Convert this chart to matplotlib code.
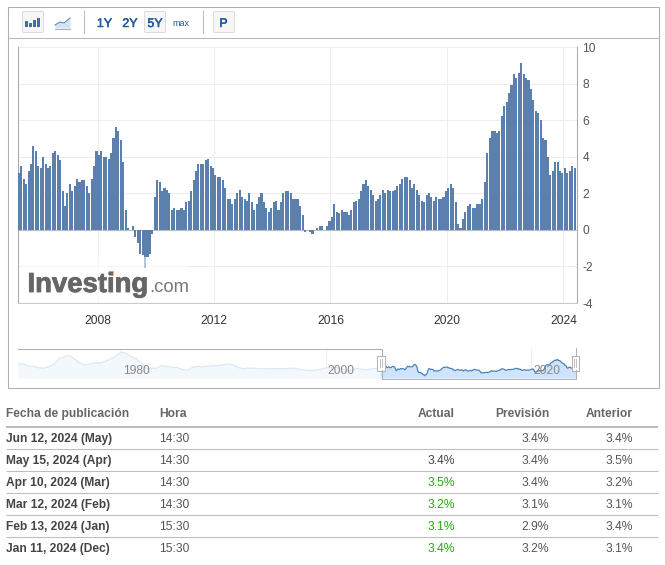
import numpy as np
import matplotlib
matplotlib.use("Agg")
import matplotlib.pyplot as plt
import matplotlib.patheffects as pe
from matplotlib.patches import Rectangle, FancyBboxPatch

plt.rcParams['font.family'] = ['Liberation Sans', 'DejaVu Sans']
plt.rcParams['axes.unicode_minus'] = False
plt.rcParams['axes.linewidth'] = 0.75

# Monthly values, first bar = Mar 2005 figure, published one month later
cpi_2005 = [3.1, 3.5, 2.8, 2.5, 3.2, 3.6, 4.6, 4.3, 3.5, 3.4]
cpi_2006 = [4.0, 3.6, 3.4, 3.5, 4.2, 4.3, 4.1, 3.8, 2.1, 1.3, 2.0, 2.5]
cpi_2007 = [2.1, 2.4, 2.8, 2.6, 2.7, 2.7, 2.4, 2.0, 2.8, 3.5, 4.3, 4.1]
cpi_2008 = [4.3, 4.0, 4.0, 3.9, 4.2, 5.0, 5.6, 5.4, 4.9, 3.7, 1.1, 0.1]
cpi_2009 = [0.0, 0.2, -0.4, -0.7, -1.3, -1.4, -2.1, -1.5, -1.3, -0.2, 1.8, 2.7]
cpi_2010 = [2.6, 2.1, 2.3, 2.2, 2.0, 1.1, 1.2, 1.1, 1.1, 1.2, 1.1, 1.5]
cpi_2011 = [1.6, 2.1, 2.7, 3.2, 3.6, 3.6, 3.6, 3.8, 3.9, 3.5, 3.4, 3.0]
cpi_2012 = [2.9, 2.9, 2.7, 2.3, 1.7, 1.7, 1.4, 1.7, 2.0, 2.2, 1.8, 1.7]
cpi_2013 = [1.6, 2.0, 1.5, 1.1, 1.4, 1.8, 2.0, 1.5, 1.2, 1.0, 1.2, 1.5]
cpi_2014 = [1.6, 1.1, 1.5, 2.0, 2.1, 2.1, 2.0, 1.7, 1.7, 1.7, 1.3, 0.8]
cpi_2015 = [-0.1, 0.0, -0.1, -0.2, 0.0, 0.1, 0.2, 0.2, 0.0, 0.2, 0.5, 0.7]
cpi_2016 = [1.4, 1.0, 0.9, 1.1, 1.0, 1.0, 0.8, 1.1, 1.5, 1.6, 1.7, 2.1]
cpi_2017 = [2.5, 2.7, 2.4, 2.2, 1.9, 1.6, 1.7, 1.9, 2.2, 2.0, 2.2, 2.1]
cpi_2018 = [2.1, 2.2, 2.4, 2.5, 2.8, 2.9, 2.9, 2.7, 2.3, 2.5, 2.2, 1.9]
cpi_2019 = [1.6, 1.5, 1.9, 2.0, 1.8, 1.6, 1.8, 1.7, 1.7, 1.8, 2.1, 2.3]
cpi_2020 = [2.5, 2.3, 1.5, 0.3, 0.1, 0.6, 1.0, 1.3, 1.4, 1.2, 1.2, 1.4]
cpi_2021 = [1.4, 1.7, 2.6, 4.2, 5.0, 5.4, 5.4, 5.3, 5.4, 6.2, 6.8, 7.0]
cpi_2022 = [7.5, 7.9, 8.5, 8.3, 8.6, 9.1, 8.5, 8.3, 8.2, 7.7, 7.1, 6.5]
cpi_2023 = [6.4, 6.0, 5.0, 4.9, 4.0, 3.0, 3.2, 3.7, 3.7, 3.2, 3.1, 3.4]
cpi_2024 = [3.1, 3.2, 3.5, 3.4]

# Overview strip, half-year readings 1970 to 2005
history = [6.2, 6.0, 4.4, 4.4, 3.3, 3.0, 3.9, 5.7, 9.4, 11.1, 11.7, 9.3, 6.8, 5.3, 5.9, 6.7,
           6.6, 7.7, 9.3, 11.3, 13.9, 13.5, 11.2, 9.6, 6.8, 3.0, 3.0, 3.0, 4.8, 4.2, 3.7, 3.6,
           2.1, 1.6, 3.6, 4.2, 4.0, 4.4, 4.8, 4.8, 5.2, 6.0, 5.3, 3.4, 2.6, 3.1, 3.0, 2.8,
           2.5, 2.8, 2.8, 2.6, 2.7, 3.0, 3.0, 2.2, 1.7, 1.5, 1.7, 2.3, 3.2, 3.5, 3.7, 2.7,
           1.1, 1.5, 3.0, 2.2, 1.9, 2.7, 3.0]

year_ticks = [2008, 2012, 2016, 2020, 2024]
value_ticks = [-4, -2, 0, 2, 4, 6, 8, 10]
overview_ticks = [1980, 2000, 2020]

table_header = ["Fecha de publicación", "Hora", "Actual", "Previsión", "Anterior"]
dates = ["Jun 12, 2024 (May)", "May 15, 2024 (Apr)", "Apr 10, 2024 (Mar)",
         "Mar 12, 2024 (Feb)", "Feb 13, 2024 (Jan)", "Jan 11, 2024 (Dec)"]
hours = ["14:30", "14:30", "14:30", "14:30", "15:30", "15:30"]
actual = ["", "3.4%", "3.5%", "3.2%", "3.1%", "3.4%"]
actual_beat = [False, False, True, True, True, True]
forecast = ["3.4%", "3.4%", "3.4%", "3.1%", "2.9%", "3.2%"]
previous = ["3.4%", "3.5%", "3.2%", "3.1%", "3.4%", "3.1%"]

values = np.array(cpi_2005 + cpi_2006 + cpi_2007 + cpi_2008 + cpi_2009 + cpi_2010 + cpi_2011 +
                  cpi_2012 + cpi_2013 + cpi_2014 + cpi_2015 + cpi_2016 + cpi_2017 + cpi_2018 +
                  cpi_2019 + cpi_2020 + cpi_2021 + cpi_2022 + cpi_2023 + cpi_2024)
dates_x = 2005 + 3.6 / 12 + np.arange(len(values)) / 12
hist_x = 1970 + np.arange(len(history)) * 0.5

W, H = 665, 565
fig = plt.figure(figsize=(W / 100, H / 100), dpi=100, facecolor='white')
PX = 72 / 100  # points per pixel


def axes_px(x0, y0, x1, y1, **kw):
    return fig.add_axes([x0 / W, 1 - y1 / H, (x1 - x0) / W, (y1 - y0) / H], **kw)


# Page overlay in pixel coordinates
page = fig.add_axes([0, 0, 1, 1], zorder=0)
page.set_xlim(0, W)
page.set_ylim(H, 0)
page.axis('off')

page.add_patch(Rectangle((7.5, 6.5), 651, 381, fc='white', ec='#aeaeae', lw=0.75))
page.plot([7.5, 658.5], [37.5, 37.5], color='#b8b8b8', lw=0.75)
for sx in (83.5, 202.5):
    page.plot([sx, sx], [11, 33], color='#bdbdbd', lw=0.75)
for bx in (22.5, 144.5, 213.5):
    page.add_patch(FancyBboxPatch((bx + 1, 12.5), 19, 19, boxstyle='round,pad=1,rounding_size=1.5',
                                  fc='#f7f7f7', ec='#dcdcdc', lw=0.75))
# toolbar icons
for ix, top in zip((25, 29, 33, 37), (21, 23, 20, 18)):
    page.add_patch(Rectangle((ix, top), 3, 27 - top, fc='#3f6ea6', ec='none'))
page.fill_between([55, 60, 64, 69, 70], [25, 22, 23, 19, 19], [28, 28, 28, 28, 28],
                  color='#d5e2ef', lw=0)
page.plot([55, 60, 64, 70], [25, 22, 23, 18], color='#4f81b5', lw=0.75)
page.plot([55, 70], [28.5, 28.5], color='#9fb0c0', lw=0.75)

btn_color = '#1d5aa0'
btn_stroke = [pe.withStroke(linewidth=0.35, foreground=btn_color)]
for label, cx in (("1Y", 104.5), ("2Y", 130), ("5Y", 155), ("P", 223.5)):
    page.text(cx, 27, label, color=btn_color, fontsize=12.5 * PX, ha='center', va='baseline',
              path_effects=btn_stroke)
page.text(180.5, 25.5, "max", color=btn_color, fontsize=9 * PX, ha='center', va='baseline')

# Table
head_color = '#666666'
text_color = '#444444'
head_base = 417
page.text(6, head_base, table_header[0], fontsize=12 * PX, color=head_color, va='baseline', fontweight='bold')
page.text(159, head_base, table_header[1], fontsize=12 * PX, color=head_color, va='baseline', fontweight='bold')
for txt, rx in zip(table_header[2:], (455, 549, 633)):
    page.text(rx, head_base, txt, fontsize=12 * PX, color=head_color, va='baseline', ha='right', fontweight='bold')
page.plot([6, 658], [426.5, 426.5], color='#bcbcbc', lw=2 * PX, solid_capstyle='butt')
for i in range(len(dates)):
    y = 437.5 + 22 * i
    base = y + 4.5
    page.text(6, base, dates[i], fontsize=12 * PX, color=text_color, va='baseline', fontweight='bold')
    page.text(159, base, hours[i], fontsize=12 * PX, color='#555555', va='baseline')
    page.text(455, base, actual[i], fontsize=12 * PX, va='baseline', ha='right',
              color='#22a80a' if actual_beat[i] else text_color)
    page.text(549, base, forecast[i], fontsize=12 * PX, color='#555555', va='baseline', ha='right')
    page.text(633, base, previous[i], fontsize=12 * PX, color='#555555', va='baseline', ha='right')
    if i < len(dates) - 1:
        page.plot([6, 658], [y + 11, y + 11], color='#bdbdbd', lw=0.75, solid_capstyle='butt')

# Main chart
ax = axes_px(18, 47, 577, 303, zorder=2)
ax.set_xlim(2008 - 79.5 / 29.12, 2008 + 479.5 / 29.12)
ax.set_ylim(-4, 10)
ax.bar(dates_x, values, width=0.072, color='#5b80ae', linewidth=0, zorder=3)
ax.axhline(0, color='#bdbdbd', lw=0.75, zorder=2)
ax.set_xticks(year_ticks)
ax.set_yticks(value_ticks)
ax.grid(True, color='#eeeeee', lw=0.75)
ax.set_axisbelow(True)
ax.yaxis.tick_right()
ax.tick_params(length=0)
ax.tick_params(axis='x', labelsize=12 * PX, labelcolor='#333333', pad=9)
ax.tick_params(axis='y', labelsize=12 * PX, labelcolor='#555555', pad=4)
ax.spines['top'].set_visible(False)
ax.spines['left'].set_color('#aaaaaa')
ax.spines['right'].set_color('#aaaaaa')
ax.spines['bottom'].set_color('#c0cbd8')

# Watermark
ax.axhspan(-3.9, -1.5, xmin=0.006, xmax=0.30, fc='white', alpha=0.55, lw=0, zorder=4)
mark = fig.add_axes([0, 0, 1, 1], zorder=3)
mark.set_xlim(0, W)
mark.set_ylim(H, 0)
mark.axis('off')
mark.text(27.5, 292, "Investing", fontsize=27.5 * PX, fontweight='bold', color='#666666', va='baseline',
          path_effects=[pe.withStroke(linewidth=0.6, foreground='#666666')])
mark.text(149, 292.5, ".com", fontsize=18.5 * PX, color='#777777', va='baseline')
mark.add_patch(Rectangle((108.5, 270.5), 5, 5, fc='#f9c25e', ec='none'))

# Overview strip
nav = axes_px(18, 349, 576, 378, zorder=2)
nav.set_xlim(1970, dates_x[-1])
nav.set_ylim(-3.7, 16.2)
nav.axis('off')
hx = np.concatenate([hist_x, dates_x[:1]])
hy = np.concatenate([history, values[:1]])
nav.fill_between(hx, hy, -3.7, color='#f3f8fd', lw=0, zorder=1)
nav.plot(hx, hy, color='#dce8f3', lw=0.9, zorder=2)
nav.fill_between(dates_x, values, -3.7, color='#cfe3fb', lw=0, zorder=1)
nav.plot(dates_x, values, color='#4a82b8', lw=0.9, zorder=2)
for yr in overview_ticks:
    nav.axvline(yr, color='#eeeeee', lw=0.75, zorder=0)
    nav.annotate(str(yr), (yr, 0), xycoords=('data', 'axes fraction'), xytext=(15.5 * PX, 7 * PX),
                 textcoords='offset points', ha='center', va='center', fontsize=12 * PX,
                 color='#888888', zorder=5)

page2 = fig.add_axes([0, 0, 1, 1], zorder=4)
page2.set_xlim(0, W)
page2.set_ylim(H, 0)
page2.axis('off')
page2.plot([18, 381.5, 381.5], [348.5, 348.5, 355], color='#b0b0b0', lw=0.75)
page2.plot([381.5, 381.5, 575.5, 575.5], [370, 378.5, 378.5, 370], color='#b0b0b0', lw=0.75)
page2.plot([575.5, 575.5], [348, 355], color='#b0b0b0', lw=0.75)
for hx0 in (377, 571.5):
    page2.add_patch(Rectangle((hx0, 355.5), 7.5, 15, fc='white', ec='#b4b4b4', lw=0.75))
    for d in (2.7, 4.8):
        page2.plot([hx0 + d, hx0 + d], [359, 367], color='#b4b4b4', lw=0.6)

fig.savefig('out.png', dpi=100)
